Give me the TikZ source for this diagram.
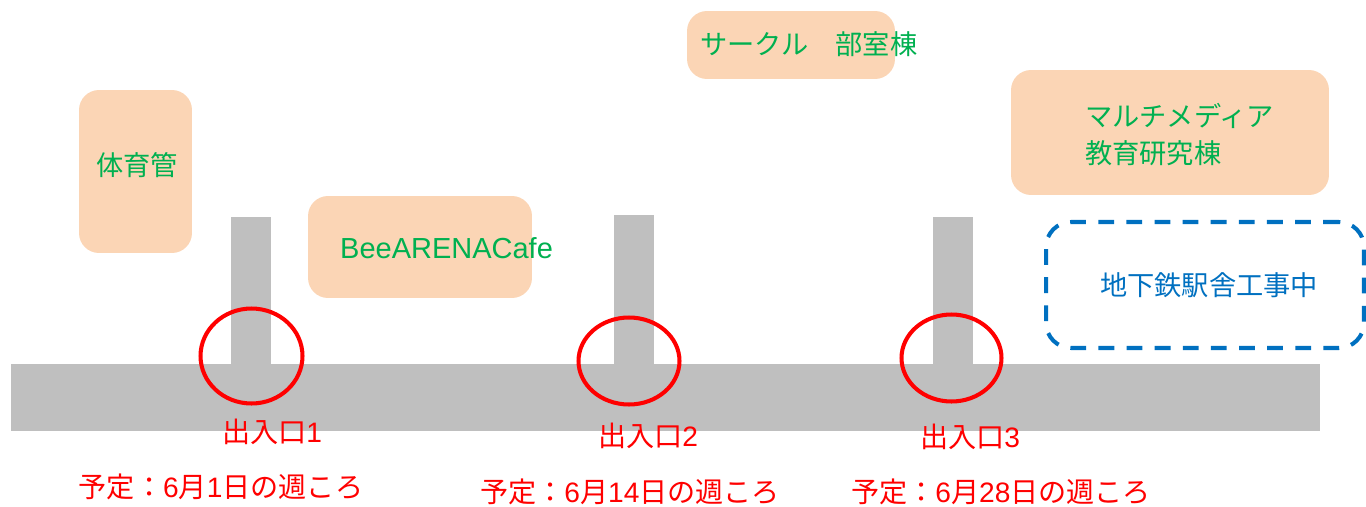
\documentclass[tikz,border=0pt]{standalone}
\usepackage{fontspec}
\setmainfont{Noto Sans CJK JP}
\newfontfamily\latin{Liberation Sans}
\usetikzlibrary{shapes.geometric}
\definecolor{roadgray}{HTML}{BFBFBF}
\definecolor{bldfill}{HTML}{FBD5B5}
\definecolor{bldtext}{HTML}{00B050}
\definecolor{worktext}{HTML}{0070C0}
\tikzset{
  bld/.style={rectangle, rounded corners=0.4cm, fill=bldfill, inner sep=0pt},
  road/.style={rectangle, fill=roadgray, inner sep=0pt},
  gate/.style={ellipse, draw=red, line width=2.3pt, inner sep=0pt},
  bldname/.style={text=bldtext, font=\fontsize{15.5}{21}\selectfont},
  gatelabel/.style={text=red, font=\fontsize{16}{18}\selectfont},
}

\begin{document}
\begin{tikzpicture}[x=0.02cm, y=-0.02cm]
\useasboundingbox (0,0) rectangle (1366,507);

% road and the three entrances
\node (stub1) at (251,290.5) [road, minimum width=0.8cm, minimum height=2.94cm] {};
\node (stub2) at (634,289.5) [road, minimum width=0.8cm, minimum height=2.98cm] {};
\node (stub3) at (953,290.5) [road, minimum width=0.8cm, minimum height=2.94cm] {};
\node (road) at (665.5,397.5) [road, minimum width=26.18cm, minimum height=1.34cm] {};

\node (gate1) at (251.5,356) [gate, minimum width=2.04cm, minimum height=1.9cm] {};
\node (gate2) at (629,361) [gate, minimum width=2.02cm, minimum height=1.74cm] {};
\node (gate3) at (951.5,358) [gate, minimum width=2.0cm, minimum height=1.74cm] {};

\node (exit1) at (272,432) [gatelabel] {出入口{\latin 1}};
\node (exit2) at (648,436) [gatelabel] {出入口{\latin 2}};
\node (exit3) at (970,437) [gatelabel] {出入口{\latin 3}};

\node (plan1) at (221,487) [gatelabel] {予定：{\latin 6}月{\latin 1}日の週ころ};
\node (plan2) at (630,492) [gatelabel] {予定：{\latin 6}月{\latin 14}日の週ころ};
\node (plan3) at (1001,492) [gatelabel] {予定：{\latin 6}月{\latin 28}日の週ころ};

% buildings
\node (gym) at (135.5,171.5) [bld, minimum width=2.26cm, minimum height=3.26cm] {};
\node (gymtxt) at (137,165) [bldname] {体育管};

\node (cafe) at (420,247) [bld, minimum width=4.48cm, minimum height=2.04cm] {};
\node (cafetxt) at (334,248) [bldname, anchor=west, font=\latin\fontsize{16.5}{21}\selectfont] {BeeARENACafe};

\node (club) at (791,45) [bld, minimum width=4.16cm, minimum height=1.36cm] {};
\node (clubtxt) at (694,44) [bldname, anchor=west] {サークル　部室棟};

\node (media) at (1170,132.5) [bld, minimum width=6.36cm, minimum height=2.5cm] {};
\node (mediatxt) at (1079,134.5) [bldname, anchor=west, align=left] {マルチメディア\\教育研究棟};

% works
\node (works) at (1205,285) [rectangle, rounded corners=0.5cm, draw=worktext, line width=2.3pt,
  dash pattern=on 9pt off 7pt, minimum width=6.36cm, minimum height=2.52cm] {};
\node (workstxt) at (1209,285) [text=worktext, font=\fontsize{15.5}{18}\selectfont] {地下鉄駅舎工事中};
\end{tikzpicture}
\end{document}
